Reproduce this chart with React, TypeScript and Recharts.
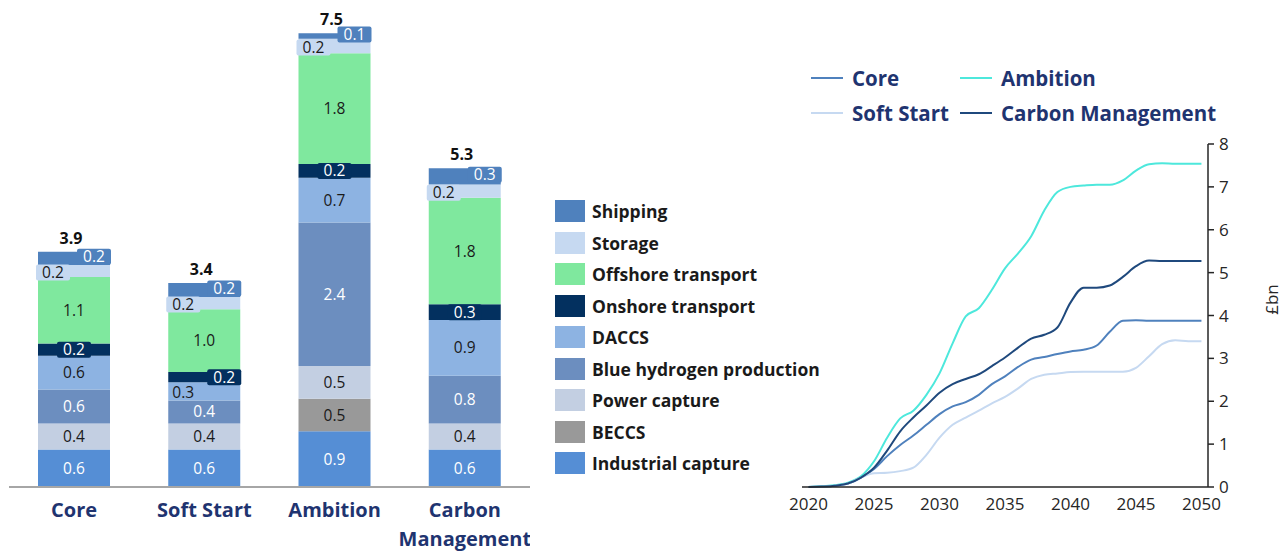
import React from "react";
import { BarChart, Bar, XAxis, YAxis, LabelList, LineChart, Line } from "recharts";

// ---- stacked bars: 2050 cost breakdown by scenario (£bn) ----
const scenarios = ["Core", "Soft Start", "Ambition", "Carbon Management"];

const industrialCapture = [0.62, 0.62, 0.92, 0.62];
const beccs = [0, 0, 0.54, 0];
const powerCapture = [0.43, 0.43, 0.54, 0.43];
const blueHydrogen = [0.56, 0.38, 2.37, 0.79];
const daccs = [0.56, 0.3, 0.74, 0.92];
const onshoreTransport = [0.2, 0.17, 0.23, 0.26];
const offshoreTransport = [1.1, 1.04, 1.83, 1.76];
const storage = [0.2, 0.2, 0.24, 0.22];
const shipping = [0.22, 0.23, 0.09, 0.27];

// ---- cumulative lines (£bn) ----
const years = [
  2020, 2021, 2022, 2023, 2024, 2025, 2026, 2027, 2028, 2029, 2030, 2031, 2032, 2033, 2034, 2035,
  2036, 2037, 2038, 2039, 2040, 2041, 2042, 2043, 2044, 2045, 2046, 2047, 2048, 2049, 2050,
];
const coreLine = [
  0, 0.01, 0.03, 0.08, 0.22, 0.42, 0.72, 0.98, 1.2, 1.45, 1.7, 1.88, 1.98, 2.15, 2.4, 2.58, 2.8,
  2.97, 3.03, 3.1, 3.16, 3.2, 3.3, 3.62, 3.88, 3.89, 3.88, 3.88, 3.88, 3.88, 3.88,
];
const softStartLine = [
  0, 0.01, 0.03, 0.08, 0.22, 0.32, 0.33, 0.37, 0.45, 0.75, 1.15, 1.45, 1.62, 1.78, 1.95, 2.1, 2.3,
  2.52, 2.62, 2.65, 2.68, 2.69, 2.69, 2.69, 2.69, 2.78, 3.05, 3.33, 3.42, 3.4, 3.4,
];
const ambitionLine = [
  0, 0.02, 0.04, 0.1, 0.25, 0.6, 1.15, 1.6, 1.78, 2.15, 2.65, 3.35, 3.98, 4.17, 4.6, 5.1, 5.45,
  5.85, 6.45, 6.88, 7.0, 7.03, 7.05, 7.05, 7.15, 7.38, 7.53, 7.55, 7.54, 7.54, 7.54,
];
const carbonMgmtLine = [
  0, 0.01, 0.03, 0.08, 0.22, 0.45, 0.85, 1.3, 1.62, 1.9, 2.2, 2.4, 2.52, 2.63, 2.82, 3.02, 3.25,
  3.46, 3.55, 3.72, 4.3, 4.65, 4.65, 4.7, 4.9, 5.15, 5.28, 5.27, 5.27, 5.27, 5.27,
];
const yearTicks = [2020, 2025, 2030, 2035, 2040, 2045, 2050];
const valueTicks = [0, 1, 2, 3, 4, 5, 6, 7, 8];

const FONT = "'Open Sans', Lato, sans-serif";
const NAVY = "#1f3470";

const SERIES = [
  { key: "industrial", name: "Industrial capture", values: industrialCapture, color: "#558ed5", text: "#ffffff" },
  { key: "beccs", name: "BECCS", values: beccs, color: "#999999", text: "#1a1a1a" },
  { key: "power", name: "Power capture", values: powerCapture, color: "#c3cfe2", text: "#1a1a1a" },
  { key: "blueH", name: "Blue hydrogen production", values: blueHydrogen, color: "#6c8ebf", text: "#ffffff" },
  { key: "daccs", name: "DACCS", values: daccs, color: "#8db3e2", text: "#1a1a1a" },
  { key: "onshore", name: "Onshore transport", values: onshoreTransport, color: "#03305f", text: "#ffffff" },
  { key: "offshore", name: "Offshore transport", values: offshoreTransport, color: "#7fe89e", text: "#1a1a1a" },
  { key: "storage", name: "Storage", values: storage, color: "#c6d9f1", text: "#1a1a1a" },
  { key: "shipping", name: "Shipping", values: shipping, color: "#4f81bd", text: "#ffffff" },
];

// where the small labels sit (Excel had them nudged by hand)
const LABEL_PLACE: Record<string, string[]> = {
  shipping: ["right", "right", "right", "right"],
  storage: ["left", "left", "left", "left"],
  onshore: ["center", "right", "center", "center"],
  daccs: ["center", "left", "center", "center"],
};
const BOXED = ["shipping", "storage", "onshore"];

const barData = scenarios.map((name, i) => {
  const row: any = { name };
  SERIES.forEach((s) => (row[s.key] = s.values[i]));
  return row;
});
const totals = scenarios.map((_, i) => SERIES.reduce((acc, s) => acc + s.values[i], 0));

const lineData = years.map((year, i) => ({
  year,
  core: coreLine[i],
  soft: softStartLine[i],
  ambition: ambitionLine[i],
  carbon: carbonMgmtLine[i],
}));

const makeLabel = (s: (typeof SERIES)[number]) => (props: any) => {
  const { x, y, width, height, value, index } = props;
  if (!value) return null;
  const place = (LABEL_PLACE[s.key] && LABEL_PLACE[s.key][index]) || "center";
  let cx = x + width / 2;
  if (place === "left") cx = x + 15;
  if (place === "right") cx = x + width - 16;
  let cy = y + height / 2;
  if (s.key === "shipping") cy -= 1.5;
  if (s.key === "storage") cy += 1.5;
  if (s.key === "daccs" && place === "left") cy += 1;
  const boxed = BOXED.includes(s.key);
  return (
    <g>
      {boxed && <rect x={cx - 17} y={cy - 8} width={34} height={16} rx={2} fill={s.color} />}
      <text x={cx} y={cy} dy={5.5} textAnchor="middle" fontSize={15.5} fontFamily={FONT} fill={s.text}>
        {Number(value).toFixed(1)}
      </text>
    </g>
  );
};

const totalLabel = (props: any) => {
  const { x, y, width, index } = props;
  return (
    <text
      x={x + width / 2 - 3}
      y={y - 8}
      textAnchor="middle"
      fontSize={16}
      fontWeight={700}
      fontFamily={FONT}
      fill="#111111"
    >
      {totals[index].toFixed(1)}
    </text>
  );
};

const CategoryTick = (props: any) => {
  const { x, y, payload } = props;
  const words = payload.value === "Carbon Management" ? ["Carbon", "Management"] : [payload.value];
  return (
    <text x={x} y={y} textAnchor="middle" fontSize={20} fontWeight={700} fontFamily={FONT} fill={NAVY}>
      {words.map((w: string, i: number) => (
        <tspan key={w} x={x} dy={i === 0 ? 30 : 29}>
          {w}
        </tspan>
      ))}
    </text>
  );
};

const legendOrder = [...SERIES].reverse();

const LINE_SERIES = [
  { key: "core", name: "Core", color: "#4f81bd" },
  { key: "ambition", name: "Ambition", color: "#4de8dc" },
  { key: "soft", name: "Soft Start", color: "#c6d9f1" },
  { key: "carbon", name: "Carbon Management", color: "#1f497d" },
];

export default function App() {
  return (
    <div
      style={{
        position: "absolute",
        left: 0,
        top: 0,
        width: 1287,
        height: 554,
        background: "#ffffff",
        fontFamily: FONT,
        overflow: "hidden",
      }}
    >
      <div style={{ position: "absolute", left: 0, top: 0 }}>
        <BarChart width={530} height={554} data={barData} margin={{ top: 3, right: 0, bottom: 7, left: 9 }}>
          <XAxis
            dataKey="name"
            height={60}
            interval={0}
            tickLine={false}
            tickSize={0}
            tickMargin={0}
            axisLine={{ stroke: "#a6a6a6", strokeWidth: 2 }}
            tick={<CategoryTick />}
          />
          <YAxis hide domain={[0, 8]} />
          {SERIES.map((s) => (
            <Bar key={s.key} dataKey={s.key} stackId="a" fill={s.color} barSize={72} isAnimationActive={false}>
              <LabelList dataKey={s.key} content={makeLabel(s)} />
              {s.key === "shipping" && <LabelList dataKey={s.key} content={totalLabel} />}
            </Bar>
          ))}
        </BarChart>
      </div>

      {/* bar legend */}
      <div style={{ position: "absolute", left: 555, top: 200 }}>
        {legendOrder.map((s) => (
          <div key={s.key} style={{ display: "flex", alignItems: "center", height: 31.5 }}>
            <div style={{ width: 30, height: 22, background: s.color, marginRight: 7, marginTop: -9 }} />
            <span style={{ fontSize: 17.5, fontWeight: 700, color: "#1a1a1a", marginTop: -9 }}>{s.name}</span>
          </div>
        ))}
      </div>

      {/* line chart */}
      <div style={{ position: "absolute", left: 780, top: 0 }}>
        <LineChart width={507} height={554} data={lineData} margin={{ top: 144, right: 19, bottom: 27, left: 22 }}>
          <XAxis
            dataKey="year"
            type="number"
            domain={[2019.5, 2050.5]}
            ticks={yearTicks}
            tickLine={false}
            height={40}
            axisLine={{ stroke: "#262626", strokeWidth: 1.5 }}
            tick={{ fontSize: 17, fill: "#262626", fontFamily: FONT }}
            tickMargin={5}
          />
          <YAxis
            orientation="right"
            domain={[0, 8]}
            ticks={valueTicks}
            width={60}
            axisLine={{ stroke: "#262626", strokeWidth: 1.5 }}
            tickLine={{ stroke: "#262626", strokeWidth: 1.5 }}
            tickSize={6}
            tickMargin={5}
            tick={{ fontSize: 17, fill: "#262626", fontFamily: FONT }}
          />
          {LINE_SERIES.map((l) => (
            <Line
              key={l.key}
              dataKey={l.key}
              type="monotone"
              stroke={l.color}
              strokeWidth={2}
              dot={false}
              isAnimationActive={false}
            />
          ))}
        </LineChart>
      </div>

      <div
        style={{
          position: "absolute",
          left: 1256,
          top: 288,
          fontSize: 17,
          color: "#262626",
          transform: "rotate(-90deg)",
          transformOrigin: "center",
        }}
      >
        £bn
      </div>

      {/* line legend */}
      <div
        style={{
          position: "absolute",
          left: 811,
          top: 66,
          display: "grid",
          gridTemplateColumns: "149px auto",
          rowGap: 11,
        }}
      >
        {LINE_SERIES.map((l) => (
          <div key={l.key} style={{ display: "flex", alignItems: "center", height: 24 }}>
            <div style={{ width: 32, height: 2, background: l.color, marginRight: 9 }} />
            <span style={{ fontSize: 20.5, fontWeight: 700, color: NAVY }}>{l.name}</span>
          </div>
        ))}
      </div>
    </div>
  );
}
